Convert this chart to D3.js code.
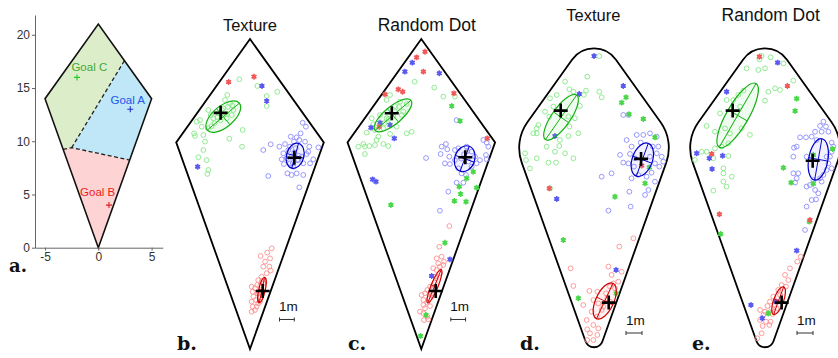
<!DOCTYPE html>
<html lang="en">
<head>
  <meta charset="UTF-8">
  <title>Goal localisation</title>
  <style>
    body { margin: 0; background: #ffffff }
    svg { display: block }
  </style>
</head>
<body>
<script src="https://d3js.org/d3.v7.min.js"></script>
<svg id="chart" width="838" height="358"></svg>
<script>
// arena (metres) and goal layout
var kite = [[0, 0], [5, 14], [0, 21], [-5, 14]];
var goalKeys = ["C", "A", "B"];
var goalNames = ["Goal C", "Goal A", "Goal B"];
var goalX = [-2, 3, 1];
var goalY = [16, 13, 4];
// dashed region borders
var borderLow = [[-3.3, 9.24], [-2.5, 9.4], [2.94, 8.23]];
var borderMid = [[-2.5, 9.4], [2.45, 17.57]];
var xTicks = [-5, 0, 5];
var yTicks = [0, 5, 10, 15, 20];

// b. Texture, sharp arena
var b_ringC = [[-0.72,18.27],[0.5,17.82],[1.13,17.14],[1.13,16.46],[1.85,17.43],[-1.54,17.21],[-1.69,16.87],[-1.36,16.64],[-1.13,16.19],[-2.82,16.19],[-2.66,15.85],[-3.39,15.51],[-3.61,15.4],[-3.27,15.06],[-3.79,14.61],[-3.73,14.43],[-3.16,14.5],[-2.82,14.95],[-0.5,14.84],[-1.4,14.25],[-0.54,13.71],[-3.05,14.05],[-3.16,13.48],[-3.5,12.99],[-2.94,12.8],[-2.82,12.13],[-2.89,11.86],[-2.15,15.97],[-1.81,16.31],[-1.58,15.63],[-2.48,15.63],[-1.24,15.85],[-2.2,15.7],[-1.9,16.2],[-1.6,15.9],[-2.4,15.3],[-1.5,16.4],[-2.0,15.5],[-1.2,16.5],[-2.6,15.1]];
var b_ringA = [[3.57,15.33],[3.79,15.06],[3.43,14.61],[3.16,14.34],[3.34,14.16],[3.73,14.05],[4.02,13.71],[4.63,13.66],[1.4,13.87],[1.99,13.71],[0.9,13.48],[2.37,13.89],[2.6,13.48],[2.48,12.92],[2.15,12.85],[2.3,12.53],[2.71,12.58],[2.94,12.35],[3.27,12.8],[3.5,13.03],[3.84,13.21],[4.29,12.85],[4.07,12.58],[2.53,11.9],[2.82,11.79],[3.16,11.9],[3.61,11.79],[1.24,11.72],[3.34,10.95],[2.26,13.26],[3.61,12.58],[2.76,14.39],[2.98,14.05],[2.71,13.71],[3.95,13.37],[3.0,13.3],[3.2,12.8],[2.8,13.0],[3.1,13.6],[2.9,12.6],[3.3,13.1]];
var b_ringB = [[1.47,6.82],[1.17,6.53],[0.72,6.3],[1.36,6.14],[1.02,5.92],[1.31,5.58],[0.9,5.58],[1.4,5.31],[1.13,5.13],[0.79,4.9],[0.56,4.67],[0.11,4.22],[0.34,4.11],[0.18,3.88],[0.5,3.77],[0.23,3.55],[0.41,3.32],[0.11,3.21],[0.56,3.09],[0.18,2.87],[0.34,2.64],[0.11,2.53],[0.45,2.87],[0.68,3.21],[0.5,4.34],[0.9,4.45],[0.6,3.8],[0.7,4.3],[0.8,4.6]];
var b_starC = [];
var b_starA = [[-3.55,12.35],[0.81,17.82],[1.13,16.8]];
var b_starB = [[-1.45,18.09],[0.27,18.45]];
var b_means = [["C",-1.99,16.0],["A",3.0,12.96],["B",0.86,3.93]];
var b_ellipses = [["C",-1.81,15.74,1.42,0.71,40],["A",3.06,13.09,0.87,0.59,75],["B",0.81,4.0,0.88,0.22,78]];

// c. Random Dot, sharp arena
var c_ringC = [[-0.45,18.11],[0.88,17.71],[1.49,17.1],[2.28,17.1],[-2.12,17.21],[-2.35,16.87],[-1.78,16.46],[-1.45,16.76],[-0.99,16.6],[-1.22,16.08],[-2.8,15.85],[-3.36,15.63],[-3.25,15.24],[-1.67,15.06],[-0.99,14.61],[-0.65,14.72],[-3.14,14.84],[-3.7,14.66],[-2.57,14.95],[-2.12,14.57],[-2.91,14.39],[-3.03,14.16],[-4.27,13.71],[-3.93,13.89],[-3.82,13.71],[-3.52,13.75],[-3.14,13.82],[-2.57,13.89],[-2.24,13.75],[-3.82,13.21],[-1.33,15.85],[-2.35,15.63],[-2.2,15.6],[-1.8,16.1],[-1.5,16.4],[-2.5,15.3],[-1.9,15.8]];
var c_ringA = [[2.39,15.51],[1.67,13.89],[1.38,13.71],[1.76,13.53],[1.31,13.21],[1.9,13.03],[1.6,12.58],[1.94,12.53],[0.32,12.94],[2.28,13.48],[2.51,13.6],[3.07,13.71],[3.41,13.37],[3.64,13.03],[3.75,12.58],[3.97,12.8],[4.2,14.16],[4.43,13.98],[4.54,13.71],[4.38,13.14],[4.43,12.85],[2.51,12.24],[2.73,11.9],[3.03,11.79],[2.39,11.27],[2.85,11.27],[1.83,10.66],[1.26,9.37],[3.41,12.35],[2.28,12.8],[2.9,13.2],[3.2,12.7],[2.7,12.9],[3.1,13.4]];
var c_ringB = [[1.9,8.33],[1.22,6.93],[1.04,6.14],[1.38,6.26],[1.15,5.8],[1.54,5.92],[1.26,5.58],[1.49,5.69],[0.81,5.47],[1.04,5.35],[1.26,5.13],[0.93,4.9],[0.59,4.22],[0.41,4.0],[0.7,3.77],[0.25,3.77],[0.02,3.66],[0.54,3.43],[0.14,3.32],[0.41,3.14],[0.59,2.91],[0.25,2.76],[0.14,2.42],[0.41,2.19],[0.18,1.96],[0.47,2.01],[-0.09,2.53],[0.14,2.98],[0.9,4.5],[1.0,4.8],[0.8,4.1],[0.7,3.6]];
var c_starC = [[2.06,16.46],[2.62,15.45],[3.52,12.01],[3.07,11.56],[2.57,11.0],[2.66,10.5],[3.75,10.93],[2.24,10.03],[3.03,9.98],[-2.06,9.76],[1.6,7.2],[0.32,2.3],[-0.05,0.88]];
var c_starA = [[-0.61,19.4],[-1.11,18.79],[1.22,18.68],[-3.41,15.0],[-2.8,15.33],[-2.12,15.18],[-1.83,14.27],[-3.3,11.49],[-3.07,11.34],[1.94,6.07],[0.7,4.95]];
var c_starB = [[0.25,20.14],[-0.32,19.76],[0.14,18.79],[-1.56,17.59],[-1.26,17.43],[-2.46,17.25],[2.21,17.32],[-2.85,15.06],[4.47,14.27]];
var c_means = [["C",-2.0,15.97],["A",2.98,12.99],["B",0.98,3.93]];
var c_ellipses = [["C",-1.92,15.83,1.59,0.59,40],["A",2.94,12.89,0.9,0.68,70],["B",0.89,4.25,1.22,0.24,68]];

// d. Texture, rounded arena
var d_ringC = [[0.33,19.31],[-0.42,18.02],[-1.81,17.71],[-1.54,17.23],[-1.29,17.08],[-0.5,17.15],[-0.63,16.88],[0.33,17.08],[0.48,16.73],[-2.33,16.88],[-2.75,16.67],[-2.54,16.15],[-3.06,15.83],[-2.79,15.52],[-3.48,15.0],[-3.58,14.79],[-3.79,14.48],[-3.58,14.48],[-1.6,15.52],[-1.19,15.42],[-1.54,14.9],[-0.98,14.48],[-1.6,14.31],[-2.13,14.06],[-2.17,13.69],[-2.44,13.33],[-1.81,13.23],[-2.38,12.65],[-2.85,12.65],[-3.58,12.92],[-4.0,12.29],[-4.31,13.23],[-4.25,12.81],[-2.96,13.65],[-1.29,12.92],[-2.75,11.04],[-0.88,16.19]];
var d_ringA = [[1.83,15.63],[2.15,15.63],[2.67,14.38],[3.08,14.38],[3.5,14.48],[3.92,14.27],[2.04,14.06],[2.35,13.65],[2.92,13.9],[3.67,13.65],[3.92,13.23],[4.23,13.02],[4.33,12.71],[3.81,12.6],[4.08,12.4],[2.25,13.19],[1.63,13.13],[1.83,12.65],[2.15,12.6],[2.5,12.4],[3.6,12.02],[3.81,11.46],[3.29,11.77],[2.35,11.67],[2.77,11.88],[1.1,11.98],[0.48,11.77],[2.21,10.83],[3.4,10.94],[3.19,10.63],[2.29,9.9],[0.9,9.65],[2.56,12.92],[3.5,13.02],[4.02,13.65]];
var d_ringB = [[2.46,7.92],[1.58,7.4],[0.9,6.15],[1.73,5.83],[-1.46,6.04],[1.1,5.63],[1.21,5.1],[1.31,4.79],[1.0,4.9],[1.52,5.21],[-0.29,4.63],[0.21,4.58],[0.75,4.48],[0.83,4.17],[-1.29,4.94],[-0.04,4.06],[0.27,3.85],[-0.67,3.75],[-0.15,3.33],[0.48,3.44],[0.17,3.02],[-0.46,2.81],[-0.04,2.5],[0.27,2.29],[-0.42,2.23],[-0.25,1.98],[-0.04,1.56],[-0.42,1.56],[0.21,1.88],[0.58,3.65],[1.0,3.96]];
var d_starC = [[2.0,16.73],[1.73,16.4],[2.19,15.67],[3.08,15.38],[3.81,14.23],[3.46,12.35],[3.19,11.35],[1.31,10.52],[-1.92,7.81],[-0.98,4.17],[1.38,4.48]];
var d_starA = [[0,19.31],[-0.92,16.94],[1.83,17.44],[-2.44,14.31],[-2.33,10.38],[1.38,5.94]];
var d_starB = [[-2.79,11.04],[2.98,12.46]];
var d_means = [["C",-2.08,15.9],["A",2.94,12.88],["B",0.92,3.9]];
var d_ellipses = [["C",-2.06,15.48,1.7,0.58,55],["A",3.02,12.83,1.09,0.63,70],["B",0.67,4.0,1.22,0.56,65]];

// e. Random Dot, rounded arena
var e_ringC = [[-0.21,19.31],[0.35,19.23],[-0.35,19.1],[1.15,18.85],[-1.15,18.54],[-0.42,18.44],[0,18.54],[1.77,17.77],[0.63,17.29],[0.94,17.19],[0.21,17.08],[0,16.52],[-1.35,17.15],[-1.67,16.88],[-1.98,16.56],[-1.56,16.15],[-2.4,16.56],[-2.81,15.73],[-3.65,14.94],[-3.13,14.58],[-2.5,14.79],[-2.19,14.48],[-1.46,14.79],[-0.94,14.38],[-2.29,13.85],[-2.71,13.65],[-3.23,12.92],[-3.65,13.33],[-3.13,13.54],[-4.38,12.81],[-3.96,13.33],[-2.29,13.06],[-2.6,12.29],[-2.6,11.98],[-2.6,11.46],[-2.08,11.77],[-3.23,10.9],[-2.4,11.15]];
var e_ringA = [[3.65,15.21],[3.44,14.94],[3.81,14.9],[3.13,14.58],[3.54,14.58],[3.96,14.58],[2.19,14.23],[2.56,14.23],[2.92,14.27],[3.23,14.06],[1.98,13.65],[1.81,13.58],[4.17,13.9],[4.27,13.65],[4.17,13.33],[4.06,13.02],[3.96,12.6],[1.77,13.02],[2.6,13.02],[3.85,12.19],[3.65,11.88],[3.44,11.67],[3.54,11.46],[3.02,11.56],[2.08,11.98],[1.77,11.98],[1.98,11.67],[1.88,11.4],[2.6,11.15],[2.81,11.25],[3.13,10.94],[3.33,10.73],[2.92,10.31],[3.19,10.35],[2.6,9.9],[2.5,8.44],[3.85,13.02],[4.17,12.29]];
var e_ringB = [[2.23,6.77],[2.02,6.46],[1.56,6.04],[1.25,5.63],[1.46,5.31],[1.31,4.9],[1.04,5.0],[0.83,4.69],[0.94,4.38],[0.52,4.27],[0.31,3.96],[0.15,3.69],[0.42,3.54],[0.73,3.54],[-0.31,3.44],[0,3.33],[0.21,3.23],[-0.1,3.13],[0.48,3.19],[-0.31,2.81],[0.06,2.71],[0.35,2.71],[-0.15,2.44],[0.27,2.5],[-0.21,1.98],[-0.48,1.67]];
var e_starC = [[1.98,16.65],[1.88,15.88],[4.23,13.5],[3.02,13.13],[1.15,12.33],[1.63,11.4],[3.02,11.33],[2.77,8.96],[-2.77,8.19],[0.21,3.23]];
var e_starA = [[0.79,18.9],[-2.4,17.08],[-4.27,13.23],[-3.48,12.92],[-2.65,13.08],[-3.31,12.25],[1.98,7.15],[-0.88,3.75],[-0.17,2.92],[0.69,3.96]];
var e_starB = [[-0.35,19.27],[1.4,17.44],[-3.33,13.19],[-2.85,9.42],[2.81,9.06]];
var e_means = [["C",-2.02,15.9],["A",2.98,12.77],["B",1.04,3.9]];
var e_ellipses = [["C",-1.71,15.6,2.3,0.69,60],["A",3.33,12.85,1.31,0.6,80],["B",0.85,4.02,0.92,0.31,70]];

var colours = {
  A: { ring: "#8c8cff", star: "#5a5af2", line: "#0000c8", label: "#2255ee", goal: "#2233cc", fill: "#bfe7f8" },
  B: { ring: "#ff8e8e", star: "#f25a5a", line: "#d00000", label: "#ee2222", goal: "#dd2222", fill: "#fdd3d3" },
  C: { ring: "#86e886", star: "#4ad84a", line: "#12b012", label: "#44a833", goal: "#22cc22", fill: "#dbeec9" }
};

var svg = d3.select("#chart");
var sans = "Liberation Sans, Arial, sans-serif";
var serif = "DejaVu Serif, serif";

// ---------- panel a: goal regions ----------
var xa = d3.scaleLinear().domain([-5.94, 6.05]).range([35, 162.8]);
var ya = d3.scaleLinear().domain([0, 21.86]).range([247.7, 15]);
var la = d3.line().x(d => xa(d[0])).y(d => ya(d[1]));

var regions = {
  C: [kite[3], kite[2], borderMid[1], borderLow[1], borderLow[0]],
  A: [borderMid[1], kite[1], borderLow[2], borderLow[1]],
  B: [borderLow[0], borderLow[1], borderLow[2], kite[0]]
};
var ga = svg.append("g");
goalKeys.forEach(function(k) {
  ga.append("path").attr("d", la(regions[k]) + "Z").attr("fill", colours[k].fill);
});
ga.append("path").attr("d", la(borderLow)).attr("fill", "none")
  .attr("stroke", "#222").attr("stroke-width", 1.3).attr("stroke-dasharray", "4,2.5");
ga.append("path").attr("d", la(borderMid)).attr("fill", "none")
  .attr("stroke", "#222").attr("stroke-width", 1.3).attr("stroke-dasharray", "4,2.5");
ga.append("path").attr("d", la(kite) + "Z").attr("fill", "none")
  .attr("stroke", "#111").attr("stroke-width", 1.6).attr("stroke-linejoin", "miter");

var axB = ga.append("g").attr("transform", "translate(0," + ya(0) + ")")
  .call(d3.axisBottom(xa).tickValues(xTicks).tickSize(3).tickSizeOuter(0).tickPadding(2).tickFormat(d => String(d)));
var axL = ga.append("g").attr("transform", "translate(" + xa(-5.94) + ",0)")
  .call(d3.axisLeft(ya).tickValues(yTicks).tickSize(3).tickSizeOuter(0).tickPadding(2).tickFormat(d => String(d)));
[axB, axL].forEach(function(ax) {
  ax.selectAll("path, line").attr("stroke", "#666");
  ax.selectAll("text").attr("fill", "#333").style("font-family", sans).style("font-size", "12px");
});

var labelOff = { C: [12.3, -6.6], A: [-2.5, -5.4], B: [-11.3, -9.5] };
goalKeys.forEach(function(k, i) {
  var gx = xa(goalX[i]), gy = ya(goalY[i]);
  ga.append("path").attr("d", "M" + (gx - 3) + "," + gy + "H" + (gx + 3) + "M" + gx + "," + (gy - 3) + "V" + (gy + 3))
    .attr("stroke", colours[k].goal).attr("stroke-width", 1.1);
  ga.append("text").attr("x", gx + labelOff[k][0]).attr("y", gy + labelOff[k][1])
    .attr("text-anchor", "middle").attr("fill", colours[k].label)
    .style("font-family", sans).style("font-size", "11.5px").text(goalNames[i]);
});
ga.append("text").attr("x", 9).attr("y", 272).style("font-family", serif)
  .style("font-weight", "bold").style("font-size", "18px").attr("fill", "#111").text("a.");

// ---------- panels b-e ----------
var panels = [
  { letter: "b.", title: "Texture", tsize: 16.5, tx: 250, ty: 30.5, ox: 250, oy: 349, s: 14.76, round: false, lx: 177,
    ring: { C: b_ringC, A: b_ringA, B: b_ringB }, star: { C: b_starC, A: b_starA, B: b_starB }, means: b_means, ell: b_ellipses },
  { letter: "c.", title: "Random Dot", tsize: 17.5, tx: 426.8, ty: 30.5, ox: 421.3, oy: 349, s: 14.76, round: false, lx: 348,
    ring: { C: c_ringC, A: c_ringA, B: c_ringB }, star: { C: c_starC, A: c_starA, B: c_starB }, means: c_means, ell: c_ellipses },
  { letter: "d.", title: "Texture", tsize: 16.5, tx: 593.3, ty: 20.5, ox: 594, oy: 365, s: 16, round: true, lx: 520,
    ring: { C: d_ringC, A: d_ringA, B: d_ringB }, star: { C: d_starC, A: d_starA, B: d_starB }, means: d_means, ell: d_ellipses },
  { letter: "e.", title: "Random Dot", tsize: 17.5, tx: 770.7, ty: 20.5, ox: 765, oy: 365, s: 16, round: true, lx: 692,
    ring: { C: e_ringC, A: e_ringA, B: e_ringB }, star: { C: e_starC, A: e_starA, B: e_starB }, means: e_means, ell: e_ellipses }
];

// corner radii in px for the smoothed arena: bottom, right, top, left
var cornerR = [9, 44, 27, 44];

function roundedKite(x, y) {
  var p = d3.path();
  var pts = kite.map(d => [x(d[0]), y(d[1])]);
  var last = pts[3], first = pts[0];
  p.moveTo((last[0] + first[0]) / 2, (last[1] + first[1]) / 2);
  for (var i = 0; i < 4; i++) {
    var v = pts[i], n = pts[(i + 1) % 4];
    p.arcTo(v[0], v[1], n[0], n[1], cornerR[i]);
  }
  p.closePath();
  return p.toString();
}

panels.forEach(function(P) {
  var x = d3.scaleLinear().domain([-5, 5]).range([P.ox - 5 * P.s, P.ox + 5 * P.s]);
  var y = d3.scaleLinear().domain([0, 21]).range([P.oy, P.oy - 21 * P.s]);
  var g = svg.append("g");

  var outline = P.round ? roundedKite(x, y) : d3.line().x(d => x(d[0])).y(d => y(d[1]))(kite) + "Z";
  g.append("path").attr("d", outline).attr("fill", "none")
    .attr("stroke", "#000").attr("stroke-width", 1.8).attr("stroke-linejoin", "miter");

  ["C", "A", "B"].forEach(function(k) {
    g.append("g").selectAll("circle").data(P.ring[k]).join("circle")
      .attr("cx", d => x(d[0])).attr("cy", d => y(d[1])).attr("r", 2.4)
      .attr("fill", "none").attr("stroke", colours[k].ring).attr("stroke-width", 0.9);
  });

  var sq = d3.symbol(d3.symbolSquare, 16);
  var ast = d3.symbol(d3.symbolAsterisk, 24);
  ["C", "A", "B"].forEach(function(k) {
    var sg = g.append("g").selectAll("g").data(P.star[k]).join("g")
      .attr("transform", d => "translate(" + x(d[0]) + "," + y(d[1]) + ")");
    sg.append("path").attr("d", sq).attr("fill", colours[k].star);
    sg.append("path").attr("d", ast).attr("fill", "none").attr("stroke", colours[k].star).attr("stroke-width", 1.4);
  });

  P.ell.forEach(function(e) {
    var rx = x(e[3]) - x(0), ry = x(e[4]) - x(0);
    var eg = g.append("g").attr("transform", "translate(" + x(e[1]) + "," + y(e[2]) + ") rotate(" + (-e[5]) + ")");
    eg.append("ellipse").attr("rx", rx).attr("ry", ry)
      .attr("fill", colours[e[0]].ring).attr("fill-opacity", 0.12)
      .attr("stroke", colours[e[0]].line).attr("stroke-width", 1.2);
    eg.append("path").attr("d", "M" + (-rx) + ",0H" + rx + "M0," + (-ry) + "V" + ry)
      .attr("stroke", colours[e[0]].line).attr("stroke-width", 0.9);
  });

  P.means.forEach(function(m) {
    var cx = x(m[1]), cy = y(m[2]), h = 7;
    g.append("path").attr("d", "M" + (cx - h) + "," + cy + "H" + (cx + h) + "M" + cx + "," + (cy - h) + "V" + (cy + h))
      .attr("stroke", "#000").attr("stroke-width", 2.6);
  });

  // 1 m scale bar
  var bx0 = x(2), bx1 = x(3), by = y(2);
  g.append("path").attr("d", "M" + bx0 + "," + by + "H" + bx1 + "M" + bx0 + "," + (by - 2) + "V" + (by + 2) + "M" + bx1 + "," + (by - 2) + "V" + (by + 2))
    .attr("stroke", "#333").attr("stroke-width", 1);
  g.append("text").attr("x", (bx0 + bx1) / 2 + 1.5).attr("y", by - 8.5).attr("text-anchor", "middle")
    .style("font-family", sans).style("font-size", "13.5px").attr("fill", "#111").text("1m");

  g.append("text").attr("x", P.tx).attr("y", P.ty).attr("text-anchor", "middle")
    .style("font-family", sans).style("font-size", P.tsize + "px").attr("fill", "#111").text(P.title);
  g.append("text").attr("x", P.lx).attr("y", 349.5).style("font-family", serif)
    .style("font-weight", "bold").style("font-size", "19px").attr("fill", "#111").text(P.letter);
});
</script>
</body>
</html>
